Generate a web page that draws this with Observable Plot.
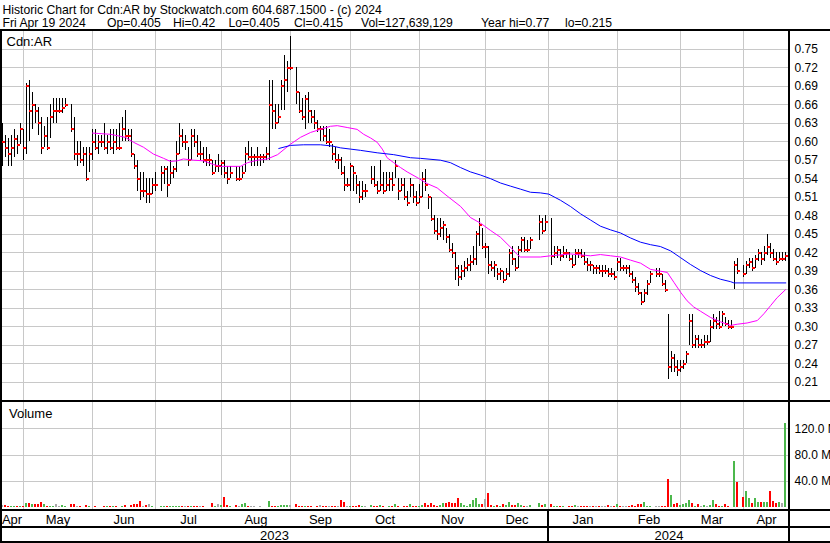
<!DOCTYPE html>
<html><head><meta charset="utf-8">
<script src="https://cdn.jsdelivr.net/npm/d3@7"></script>
<script src="https://cdn.jsdelivr.net/npm/@observablehq/plot@0.6"></script>
<style>
html,body{margin:0;padding:0;background:#fff;}
#wrap{position:relative;width:830px;height:543px;overflow:hidden;background:#fff;font-family:"Liberation Sans",Arial,sans-serif;color:#000;}
.t{position:absolute;white-space:pre;line-height:1;}
.ln{position:absolute;background:#000;}
svg{display:block;}
</style></head><body><div id="wrap"></div>
<script>
// ---------- DATA (one slot per weekday, Apr 20 2023 .. Apr 19 2024; null = market holiday) ----------
const close = [
0.60,0.59,0.58,0.59,0.605,0.595,0.62,0.59,0.69,0.65,
0.66,0.65,0.63,0.59,0.61,0.59,0.64,0.65,0.65,0.65,
0.655,0.66,null,0.62,0.58,0.58,0.57,0.58,0.54,0.58,
0.60,0.59,0.60,0.60,0.59,0.60,0.59,0.60,0.59,0.59,
0.62,0.61,0.61,0.58,0.56,0.54,0.52,0.52,0.515,0.515,
0.53,0.53,null,0.55,0.555,0.53,0.55,0.555,0.58,0.61,
0.60,0.60,0.57,0.61,0.60,0.58,0.58,0.57,0.57,0.57,
0.55,0.56,0.56,0.565,0.55,0.54,0.55,null,0.54,0.54,
0.55,0.58,0.575,0.575,0.575,0.575,0.575,0.575,0.58,0.66,
0.65,0.63,0.64,0.69,0.70,0.72,0.72,null,0.68,0.65,
0.64,0.67,0.65,0.64,0.63,0.62,0.62,0.61,0.60,0.60,
0.58,0.57,0.57,0.55,0.53,0.53,0.56,0.55,0.53,0.51,
0.52,0.52,null,0.54,0.53,0.52,0.53,0.52,0.53,0.54,
0.53,0.56,0.52,0.53,0.51,0.50,0.53,0.51,0.50,0.51,
0.54,0.53,0.51,0.475,0.455,0.45,0.46,0.465,0.445,0.425,
0.42,0.395,0.38,0.39,0.395,0.40,0.405,0.41,0.45,0.465,
0.43,0.43,0.40,0.395,0.40,0.385,0.39,0.375,0.385,0.42,
0.41,0.395,0.425,0.44,0.425,0.425,0.44,null,null,0.47,
0.455,0.47,null,0.415,0.42,0.425,0.415,0.42,0.42,0.41,
0.40,0.42,0.42,0.415,0.405,0.40,0.40,0.395,0.395,0.39,
0.39,0.39,0.385,0.385,0.38,0.405,0.395,0.395,0.395,0.385,
0.375,0.365,0.355,0.34,0.355,0.37,0.385,null,0.385,0.385,
0.37,0.36,0.235,0.25,0.235,0.23,0.235,0.24,0.255,0.31,
0.27,0.28,0.27,0.27,0.275,0.275,0.30,0.31,0.305,0.30,
0.32,0.305,0.30,0.30,0.40,0.39,null,0.385,0.40,0.405,
0.395,0.41,0.42,0.41,0.42,0.43,0.42,0.41,0.405,0.41,
0.41,0.415];
const high = [
.63,.61,.605,.61,.62,.61,.63,.62,.695,.70,
.68,.66,.655,.64,.625,.64,.66,.67,.67,.67,
.67,.67,null,.66,.64,.60,.60,.59,.59,.59,
.62,.62,.61,.61,.63,.61,.62,.62,.62,.63,
.64,.65,.62,.62,.58,.57,.55,.55,.54,.54,
.54,.55,null,.56,.56,.56,.57,.56,.60,.63,
.62,.61,.59,.62,.62,.61,.60,.59,.59,.58,
.57,.57,.58,.57,.57,.56,.56,null,.56,.56,
.56,.59,.60,.59,.58,.59,.58,.58,.59,.70,
.70,.66,.66,.70,.74,.73,.77,null,.72,.68,
.67,.675,.68,.65,.65,.635,.625,.625,.625,.62,
.595,.59,.58,.575,.56,.54,.565,.56,.545,.535,
.535,.53,null,.56,.56,.535,.57,.55,.55,.55,
.55,.57,.54,.54,.54,.52,.54,.53,.52,.53,
.55,.555,.515,.51,.48,.475,.475,.47,.46,.45,
.435,.42,.40,.40,.405,.41,.415,.43,.455,.475,
.46,.435,.43,.405,.405,.395,.395,.39,.395,.425,
.43,.41,.43,.445,.445,.44,.445,null,null,.48,
.475,.48,null,.475,.43,.43,.425,.43,.425,.42,
.415,.425,.425,.425,.42,.41,.405,.40,.40,.40,
.40,.40,.395,.395,.39,.41,.41,.40,.40,.40,
.39,.38,.37,.355,.36,.375,.39,null,.395,.395,
.385,.375,.32,.26,.255,.245,.245,.245,.26,.32,
.32,.285,.285,.28,.285,.285,.31,.32,.315,.325,
.325,.315,.31,.31,.405,.41,null,.40,.405,.41,
.41,.415,.425,.42,.43,.45,.435,.425,.42,.42,
.42,.42];
const low = [
.56,.575,.56,.56,.575,.58,.595,.57,.58,.60,
.62,.63,.61,.58,.59,.585,.605,.63,.63,.645,
.645,.655,null,.615,.57,.56,.565,.56,.535,.55,
.57,.585,.58,.59,.585,.58,.585,.58,.585,.585,
.60,.60,.60,.575,.555,.52,.505,.51,.50,.50,
.515,.52,null,.52,.53,.51,.53,.54,.55,.58,
.59,.585,.56,.57,.59,.575,.57,.565,.56,.56,
.545,.55,.55,.545,.54,.53,.54,null,.535,.535,
.54,.55,.57,.56,.56,.56,.56,.565,.57,.57,
.62,.62,.63,.65,.65,.68,.715,null,.66,.645,
.635,.62,.63,.63,.62,.615,.60,.60,.595,.59,
.57,.565,.555,.545,.52,.525,.52,.52,.515,.50,
.505,.51,null,.53,.525,.515,.52,.515,.52,.52,
.52,.54,.505,.52,.505,.495,.51,.50,.495,.50,
.51,.52,.49,.47,.45,.44,.445,.44,.435,.42,
.41,.375,.365,.375,.38,.39,.39,.40,.40,.43,
.425,.41,.385,.39,.38,.375,.375,.37,.375,.38,
.40,.39,.395,.42,.42,.42,.425,null,null,.44,
.45,.455,null,.40,.41,.41,.405,.41,.41,.405,
.395,.40,.41,.41,.40,.39,.39,.385,.385,.385,
.38,.385,.38,.38,.375,.39,.39,.39,.385,.38,
.37,.355,.35,.335,.34,.35,.37,null,.38,.38,
.365,.355,.215,.225,.225,.22,.225,.23,.24,.27,
.265,.265,.265,.265,.265,.27,.275,.295,.295,.295,
.30,.30,.295,.295,.36,.385,null,.38,.385,.395,
.39,.395,.405,.40,.405,.415,.41,.405,.40,.405,
.405,.405];
// volume in millions of shares
const volume = [
3,3,1,2,1,1,1,1,6,6,
5,5,4,7,5,2,2,2,4.5,2,
3,2,null,5,5,1,1,0.3,3.5,1,
0.5,1,0.3,0.3,2,1,2,1,1,0.3,
2,3.5,0.3,3.5,5,5,9,1,3.5,5,
1,0.3,null,1,1,2,2,2,2,2,
2,1,2,1,1,1,1,1,0.5,0.3,
6.5,1,5,3.5,16,3.5,1,null,3.5,2,
5,6.5,2,2,1,0.3,1,0.3,0.3,9,
2,1,2,3.5,3.5,2.5,3.5,null,5,1,
1,1,2,1,0.3,2,3.5,2,2,1,
1,1,1,11,8,2,1,2,1,3.5,
1,2,null,3.5,1,1,3.5,1,0.3,1,
1,5,1,0.3,1,1,5,1,2,1,
3.5,6.5,3.5,6.5,3.5,2,3.5,6.5,6.5,8,
6.5,6.5,14,6.5,3.5,1,5,10,14,5,
5,12,21,3.5,2,3.5,2,5,3.5,8,
3.5,3.5,6.5,3.5,2,1,3.5,null,null,6.5,
3,4,null,4,2,2,2,2,0.3,1,
2,3,1,2,1,2,1,2,1,2,
1,1,3,1,1,4,1,1,1,2,
3,2,5,5,8,2,2,null,1,1,
2,2,42,19,5,6.5,3,4,5.5,10,
6,2,5,1,3,2,3,10,4,1,
2,5,2,0.3,70,38,null,15,25,13,
6,14,8,7,8,7,25,9,6,8,
6,127.6];
// 30-day moving average (pink): slot index, value
const pinkIdx = [30,36,41,43.7,47,50.3,53.7,56,58.3,60.3,63.7,67,70.3,72.7,76,79.3,81.7,85,88.3,91.7,96,99.3,102.7,106,109.3,111.6,114.9,118.2,120.4,122.7,124.9,126.6,128.2,130.4,132.7,134.9,138.2,141.6,144.9,148.2,152.7,156,159.3,162.7,166,169.3,171.6,172.7,179.3,182.7,189.3,196,199.3,202.7,206,209.3,212.7,216,219.3,221.6,223.8,226,228.2,230.4,232.7,236,239.3,242.7,244.9,248.2,251.6,253.8,256,258.2,261];
const pinkVal = [0.614,0.612,0.607,0.599,0.591,0.580,0.573,0.568,0.569,0.572,0.570,0.569,0.563,0.560,0.560,0.560,0.566,0.570,0.572,0.579,0.596,0.607,0.615,0.620,0.625,0.626,0.623,0.620,0.612,0.606,0.599,0.588,0.574,0.566,0.558,0.551,0.542,0.532,0.525,0.512,0.495,0.477,0.468,0.456,0.445,0.429,0.417,0.413,0.413,0.415,0.418,0.415,0.417,0.415,0.413,0.408,0.403,0.393,0.390,0.388,0.372,0.356,0.342,0.332,0.325,0.315,0.308,0.302,0.304,0.306,0.310,0.321,0.334,0.347,0.360];
// 90-day moving average (blue)
const blueIdx = [92.1,96,100.4,106,109.9,112.7,116,119.3,124.9,130.4,136,139.3,146,149.3,152.7,156,159.3,162.7,166,169.3,172.7,176,179.3,182.1,186,189.3,192.7,196,199.3,202.7,206,209.3,212.7,216,219.3,222.7,226,229.3,232.7,236,239.3,242.7,243.8,261.1];
const blueVal = [0.589,0.594,0.595,0.595,0.593,0.590,0.588,0.586,0.582,0.579,0.574,0.573,0.570,0.566,0.558,0.551,0.546,0.540,0.533,0.528,0.523,0.518,0.517,0.515,0.505,0.495,0.483,0.473,0.463,0.457,0.452,0.444,0.437,0.433,0.430,0.423,0.412,0.401,0.391,0.383,0.377,0.373,0.371,0.371];
const priceTicks = [0.21,0.24,0.27,0.30,0.33,0.36,0.39,0.42,0.45,0.48,0.51,0.54,0.57,0.60,0.63,0.66,0.69,0.72,0.75];
const volTicks = [40,80,120];
const monthStart = [7,30,51,73,96,116,139,161,182,205,226,247];
const monthNames = ["Apr","May","Jun","Jul","Aug","Sep","Oct","Nov","Dec","Jan","Feb","Mar","Apr"];
const yearStart = [182];
const yearNames = ["2023","2024"];
const titleLine1 = "Historic Chart for Cdn:AR by Stockwatch.com 604.687.1500 - (c) 2024";
const titleFields = ["Fri Apr 19 2024", "Op=0.405", "Hi=0.42", "Lo=0.405", "Cl=0.415", "Vol=127,639,129", "Year hi=0.77", "lo=0.215"];

// ---------- LAYOUT ----------
const titleFieldLeft = [2.5, 107, 173, 228.5, 294, 361, 481, 565];

// ---------- BUILD ----------
const FONT = '"Liberation Sans", Arial, sans-serif';
const wrap = document.getElementById("wrap");
const N = close.length;
const bars = [];
let prev = null;
for (let i = 0; i < N; i++) {
  if (close[i] == null) continue;
  const dir = prev == null || close[i] === prev ? "flat" : close[i] > prev ? "up" : "down";
  bars.push({i, c: close[i], h: high[i], l: low[i], v: volume[i], dir});
  prev = close[i];
}
const pinkMA = pinkIdx.map((i, k) => ({i, v: pinkVal[k]}));
const blueMA = blueIdx.map((i, k) => ({i, v: blueVal[k]}));
const xDomain = [-2/3, N + 1/3];
const GRID = "#c8c8c8";

function put(el, top, left) {
  el.style.position = "absolute"; el.style.top = top + "px"; el.style.left = left + "px";
  el.style.background = "transparent";
  wrap.appendChild(el);
}

const priceSvg = Plot.plot({
  width: 830, height: 370, marginTop: 0, marginBottom: 0, marginLeft: 0, marginRight: 41,
  style: {fontFamily: FONT, fontSize: "12px", background: "transparent", color: "#000"},
  x: {domain: xDomain, axis: null},
  y: {domain: [0.1787, 0.7787], axis: "right", ticks: priceTicks, tickFormat: d3.format(".2f"), tickSize: 0, tickPadding: 5, label: null},
  marks: [
    Plot.ruleY(priceTicks, {stroke: GRID, shapeRendering: "crispEdges"}),
    Plot.ruleX(monthStart, {stroke: GRID, shapeRendering: "crispEdges"}),
    Plot.ruleX(bars, {x: "i", y1: "l", y2: "h", stroke: "#000", shapeRendering: "crispEdges"}),
    Plot.ruleY(bars, {y: "c", x1: "i", x2: d => d.i + 0.85, stroke: "#ff0000", strokeWidth: 2, shapeRendering: "crispEdges"}),
    Plot.line(pinkMA, {x: "i", y: "v", stroke: "#ff00ff", strokeWidth: 1}),
    Plot.line(blueMA, {x: "i", y: "v", stroke: "#0000ff", strokeWidth: 1})
  ]
});
put(priceSvg, 31, 0);

const volSvg = Plot.plot({
  width: 830, height: 108, marginTop: 0, marginBottom: 0, marginLeft: 0, marginRight: 41,
  style: {fontFamily: FONT, fontSize: "12px", background: "transparent", color: "#000"},
  x: {domain: xDomain, axis: null},
  y: {domain: [-4.57, 160.1], axis: "right", ticks: volTicks, tickFormat: d => d.toFixed(1) + " M", tickSize: 0, tickPadding: 5, label: null},
  color: {domain: ["up", "down", "flat"], range: ["#4cb84c", "#ff0000", "#a8a8a8"]},
  marks: [
    Plot.ruleY(volTicks, {stroke: GRID, shapeRendering: "crispEdges"}),
    Plot.ruleX(monthStart, {stroke: GRID, shapeRendering: "crispEdges"}),
    Plot.rect(bars, {x1: d => d.i - 0.35, x2: d => d.i + 0.35, y1: 0, y2: "v", fill: "dir", shapeRendering: "crispEdges"})
  ]
});
put(volSvg, 402, 0);

const mb = [xDomain[0], ...monthStart, xDomain[1]];
const monthLabels = monthNames.map((name, k) => ({name, x: (mb[k] + mb[k + 1]) / 2}));
const yb = [xDomain[0], ...yearStart, xDomain[1]];
const yearLabels = yearNames.map((name, k) => ({name, x: (yb[k] + yb[k + 1]) / 2}));
const axisSvg = Plot.plot({
  width: 830, height: 32, marginTop: 0, marginBottom: 0, marginLeft: 0, marginRight: 41,
  style: {fontFamily: FONT, fontSize: "13px", background: "transparent", color: "#000"},
  x: {domain: xDomain, axis: null},
  y: {domain: [0, 32], range: [0, 32], axis: null},
  marks: [
    Plot.text(monthLabels, {x: "x", y: () => 12.5, text: "name", lineAnchor: "bottom", fontSize: 13, fill: "#000"}),
    Plot.text(yearLabels, {x: "x", y: () => 28.5, text: "name", lineAnchor: "bottom", fontSize: 13, fill: "#000"})
  ]
});
put(axisSvg, 511, 0);

// frame lines
function ln(x, y, w, h) { const d = document.createElement("div"); d.className = "ln"; d.style.left = x + "px"; d.style.top = y + "px"; d.style.width = w + "px"; d.style.height = h + "px"; wrap.appendChild(d); }
ln(0, 29, 830, 2);
ln(0, 31, 2, 512);
ln(788, 31, 2, 512);
ln(0, 400, 830, 2);
ln(0, 509, 830, 2);
ln(0, 526, 830, 2);
ln(0, 541, 830, 2);
ln(547, 509, 2, 34);

// texts
function txt(s, x, y, size) { const d = document.createElement("div"); d.className = "t"; d.textContent = s; d.style.left = x + "px"; d.style.top = y + "px"; d.style.fontSize = size + "px"; wrap.appendChild(d); return d; }
txt(titleLine1, 2.5, 3.5, 12.2);
titleFields.forEach((s, k) => txt(s, titleFieldLeft[k], 17, 12.2));
txt("Cdn:AR", 6.5, 35, 13);
txt("Volume", 9, 406.5, 13);
</script></body></html>
